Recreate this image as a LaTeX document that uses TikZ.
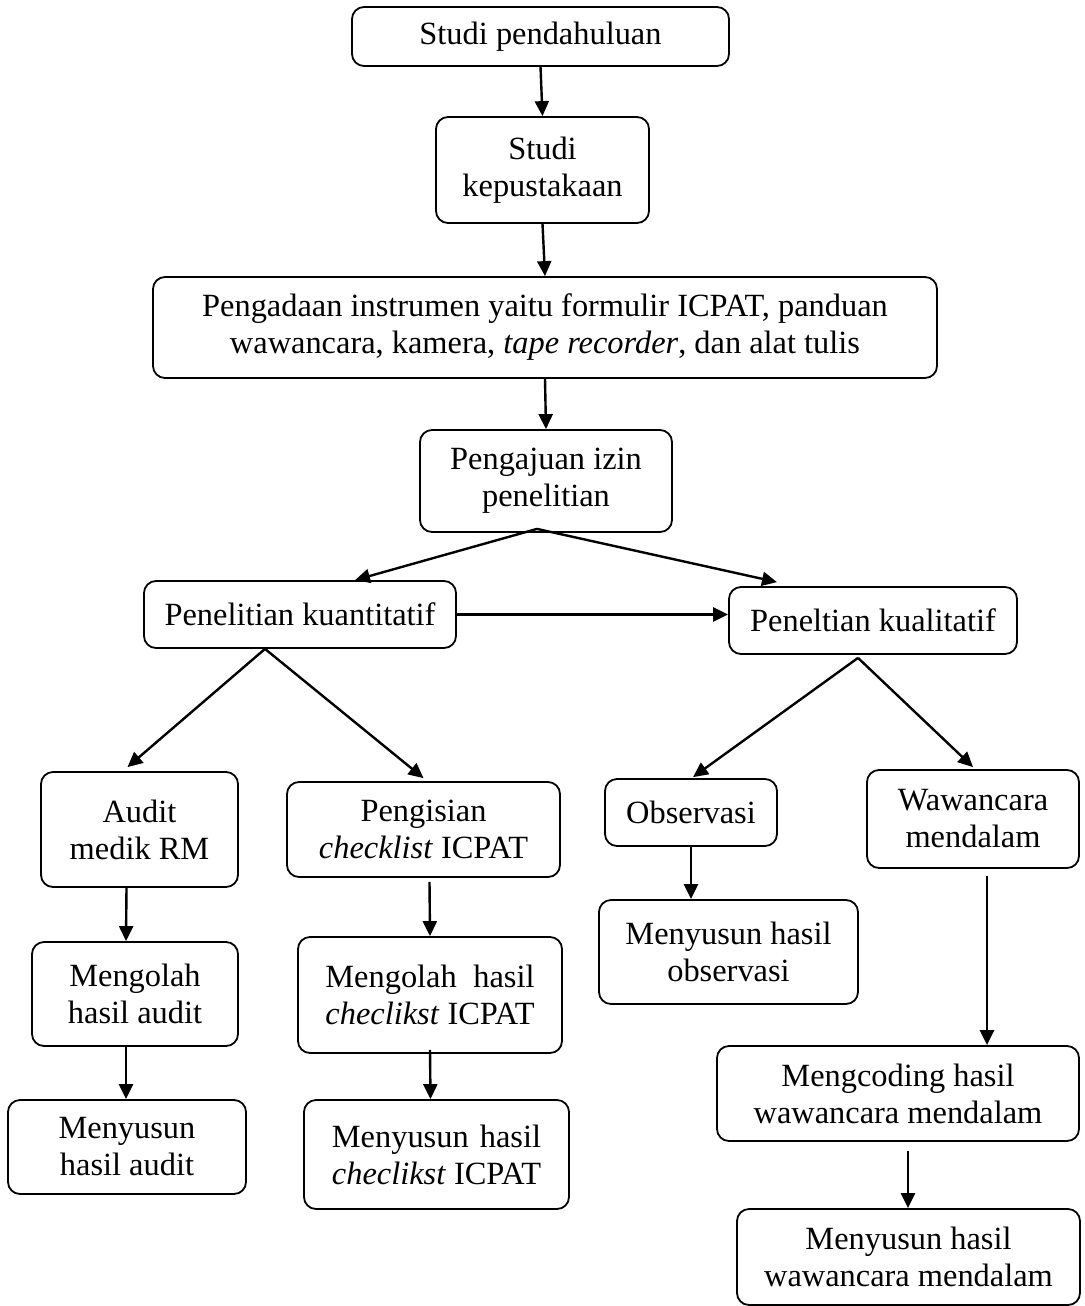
\documentclass[tikz,border=0pt]{standalone}
\usepackage{fontspec}
\setmainfont{Liberation Serif}
\usepackage{calc}
\usetikzlibrary{arrows.meta}

\newcommand{\spreadline}[2]{\makebox[\widthof{#2}][s]{#1}}

\begin{document}
\begin{tikzpicture}[x=0.5pt,y=-0.5pt,
	box/.style={draw, rounded corners=6pt, line width=0.9pt, align=center, inner sep=0pt, font=\fontsize{16.2}{18.5}\selectfont},
	arr/.style={-{Triangle[length=7.5pt,width=7pt]}, line width=1.2pt}]
	\useasboundingbox (0,0) rectangle (1084,1306);

	\node[box, minimum width=188.5pt, minimum height=29.5pt] (s1) at (540.5,36.5)  {Studi pendahuluan};
	\node[box, minimum width=106.5pt, minimum height=53pt]   (s2) at (542.5,170)   {Studi\\kepustakaan};
	\node[box, minimum width=392pt,   minimum height=50.5pt] (s3) at (545,327.5)   {Pengadaan instrumen yaitu formulir ICPAT, panduan\\wawancara, kamera, \textit{tape recorder}, dan alat tulis};
	\node[box, minimum width=126pt,   minimum height=51pt]   (s4) at (546,481)     {Pengajuan izin\\penelitian};

	\node[box, minimum width=156pt, minimum height=33.5pt] (kn) at (300,614.5) {Penelitian kuantitatif};
	\node[box, minimum width=144pt, minimum height=33.5pt] (kl) at (873,620.5) {Peneltian kualitatif};

	\node[box, minimum width=98.5pt,  minimum height=57.5pt] (a1) at (139.5,829.5) {Audit\\medik RM};
	\node[box, minimum width=103pt,   minimum height=52pt]   (a2) at (135,994)     {Mengolah\\hasil audit};
	\node[box, minimum width=119pt,   minimum height=47pt]   (a3) at (127,1147)    {Menyusun\\hasil audit};

	\node[box, minimum width=136.5pt, minimum height=47.5pt] (c1) at (423.5,829.5) {Pengisian\\\textit{checklist} ICPAT};
	\node[box, minimum width=132pt,   minimum height=58pt]   (c2) at (430,995)     {\spreadline{Mengolah hasil}{\textit{checlikst} ICPAT}\\\textit{checlikst} ICPAT};
	\node[box, minimum width=132.5pt, minimum height=54.5pt] (c3) at (436.5,1154.5) {\spreadline{Menyusun hasil}{\textit{checlikst} ICPAT}\\\textit{checlikst} ICPAT};

	\node[box, minimum width=86pt,    minimum height=33.5pt] (o1) at (691,812.5)   {Observasi};
	\node[box, minimum width=129.5pt, minimum height=52pt]   (o2) at (728.5,952)   {Menyusun hasil\\observasi};

	\node[box, minimum width=106pt,   minimum height=49pt]   (w1) at (973,819)     {Wawancara\\mendalam};
	\node[box, minimum width=181pt,   minimum height=47.5pt] (w2) at (898,1093.5)  {Mengcoding hasil\\wawancara mendalam};
	\node[box, minimum width=171.5pt, minimum height=48pt]   (w3) at (908.5,1257)  {Menyusun hasil\\wawancara mendalam};

	\draw (s1.south) edge[arr] (s2.north)
		(s2.south) edge[arr] (s3.north)
		(s3.south) edge[arr] (s4.north)

		([xshift=-4.5pt,yshift=2pt]s4.south) edge[arr] ([xshift=27.5pt]kn.north)
		([xshift=-4.5pt,yshift=2pt]s4.south) edge[arr] ([xshift=-48pt,yshift=2pt]kl.north)
		(kn.east) edge[arr] (kn.east -| kl.west)

		([xshift=-17.5pt]kn.south) edge[arr] ([xshift=-6pt,yshift=2pt]a1.north)
		([xshift=-17.5pt]kn.south) edge[arr] ([yshift=1.5pt]c1.north)
		([xshift=-7.5pt,yshift=-1.5pt]kl.south) edge[arr] ([xshift=1pt,yshift=0.5pt]o1.north)
		([xshift=-7.5pt,yshift=-1.5pt]kl.south) edge[arr] ([yshift=1pt]w1.north)

		([xshift=-6.5pt]a1.south) edge[arr] ([xshift=-4.5pt]a2.north)
		([xshift=-4.5pt]a2.south) edge[arr] ([xshift=-0.5pt]a3.north)
		([xshift=3pt,yshift=-2pt]c1.south) edge[arr] (c2.north)
		([yshift=2pt]c2.south) edge[arr] ([xshift=-3pt]c3.north)
		(o1.south) edge[arr] (o1.south |- o2.north)
		([xshift=7pt,yshift=-3.5pt]w1.south) edge[arr] ([xshift=7pt]w1.south |- w2.north)
		([xshift=5pt,yshift=-4.5pt]w2.south) edge[arr] ([xshift=5pt]w2.south |- w3.north);
\end{tikzpicture}
\end{document}
